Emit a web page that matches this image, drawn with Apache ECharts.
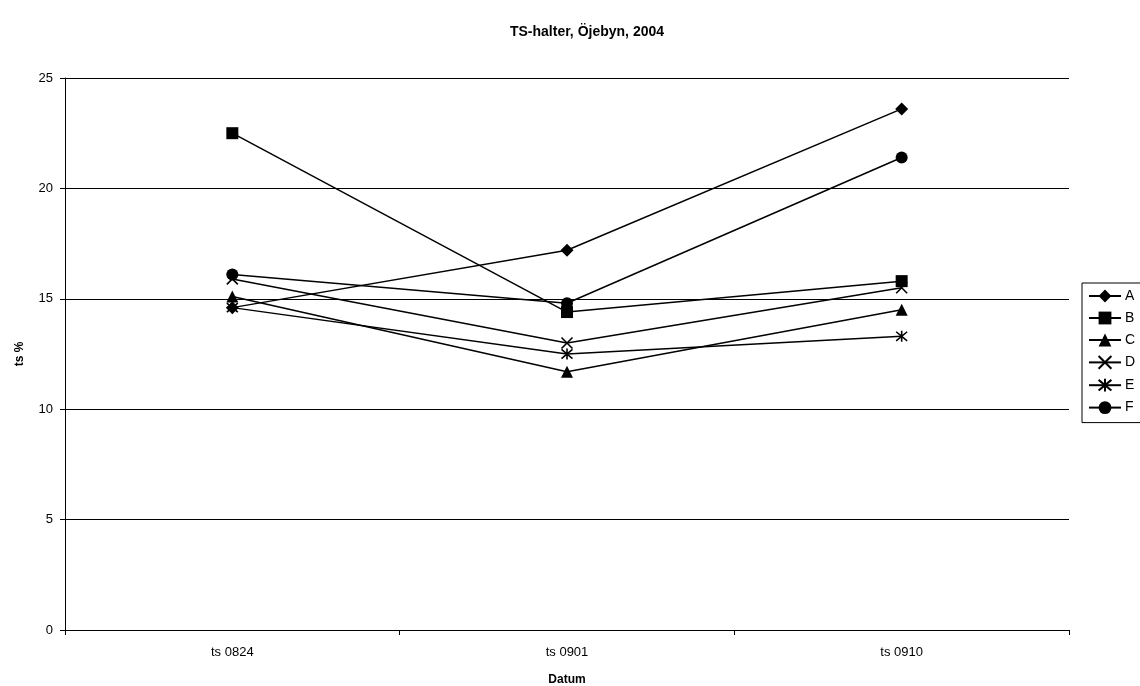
<!DOCTYPE html>
<html><head><meta charset="utf-8">
<script src="https://cdn.jsdelivr.net/npm/echarts@6/dist/echarts.min.js"></script>
<style>html,body{margin:0;padding:0;background:#fff}#c{width:1140px;height:686px}</style>
</head><body><div id="c"></div>
<script>
const categories = ['ts 0824', 'ts 0901', 'ts 0910'];
const seriesNames = ['A', 'B', 'C', 'D', 'E', 'F'];
const A = [14.6, 17.2, 23.6];
const B = [22.5, 14.4, 15.8];
const C = [15.1, 11.7, 14.5];
const D = [15.9, 13.0, 15.5];
const E = [14.6, 12.5, 13.3];
const F = [16.1, 14.8, 21.4];
const yTicks = [0, 5, 10, 15, 20, 25];

const values = [A, B, C, D, E, F];
const symbols = ['diamond', 'rect', 'triangle',
  'path://M0,0L10,10M10,0L0,10',
  'path://M0,0L10,10M10,0L0,10M5,-1L5,11',
  'circle'];
const sizes = [13, 12, 12, 11, 11, 12];
const font = 'Arial, "Liberation Sans", sans-serif';

const chart = echarts.init(document.getElementById('c'));
chart.setOption({
  animation: false,
  backgroundColor: '#fff',
  title: {
    text: 'TS-halter, Öjebyn, 2004',
    left: 582, top: 20, textAlign: 'center',
    textStyle: {fontFamily: font, fontSize: 14, fontWeight: 'bold', color: '#000'}
  },
  legend: {
    orient: 'vertical',
    left: 1082, top: 283,
    padding: [6, 20, 8, 6],
    itemGap: 8, itemWidth: 32, itemHeight: 16,
    borderColor: '#000', borderWidth: 1,
    textStyle: {fontFamily: font, fontSize: 14, color: '#000', padding: [0, 0, 0, -1]},
    data: seriesNames
  },
  grid: {left: 65, right: 71, top: 78, bottom: 56, containLabel: false, outerBoundsMode: 'none'},
  xAxis: {
    type: 'category', data: categories, boundaryGap: true,
    name: 'Datum', nameLocation: 'middle', nameGap: 44,
    nameTextStyle: {fontFamily: font, fontSize: 12, fontWeight: 'bold', color: '#000'},
    axisLine: {lineStyle: {color: '#000', width: 1}},
    axisTick: {show: true, length: 5, lineStyle: {color: '#000'}},
    axisLabel: {fontFamily: font, fontSize: 13, color: '#000', margin: 16}
  },
  yAxis: {
    type: 'value', min: yTicks[0], max: yTicks[yTicks.length - 1], interval: 5,
    name: 'ts %', nameLocation: 'middle', nameGap: 39, nameRotate: 90,
    nameTextStyle: {fontFamily: font, fontSize: 12, fontWeight: 'bold', color: '#000'},
    axisLine: {show: true, lineStyle: {color: '#000', width: 1}},
    axisTick: {show: true, length: 5, lineStyle: {color: '#000'}},
    axisLabel: {fontFamily: font, fontSize: 13, color: '#000', margin: 12},
    splitLine: {show: true, lineStyle: {color: '#000', width: 1}}
  },
  series: seriesNames.map((n, i) => ({
    name: n, type: 'line', data: values[i],
    symbol: symbols[i], symbolSize: sizes[i], showSymbol: true,
    lineStyle: {color: '#000', width: 1.5},
    itemStyle: {color: '#000', borderColor: '#000', borderWidth: (i === 3 || i === 4) ? 1.6 : 0}
  }))
});
</script></body></html>
